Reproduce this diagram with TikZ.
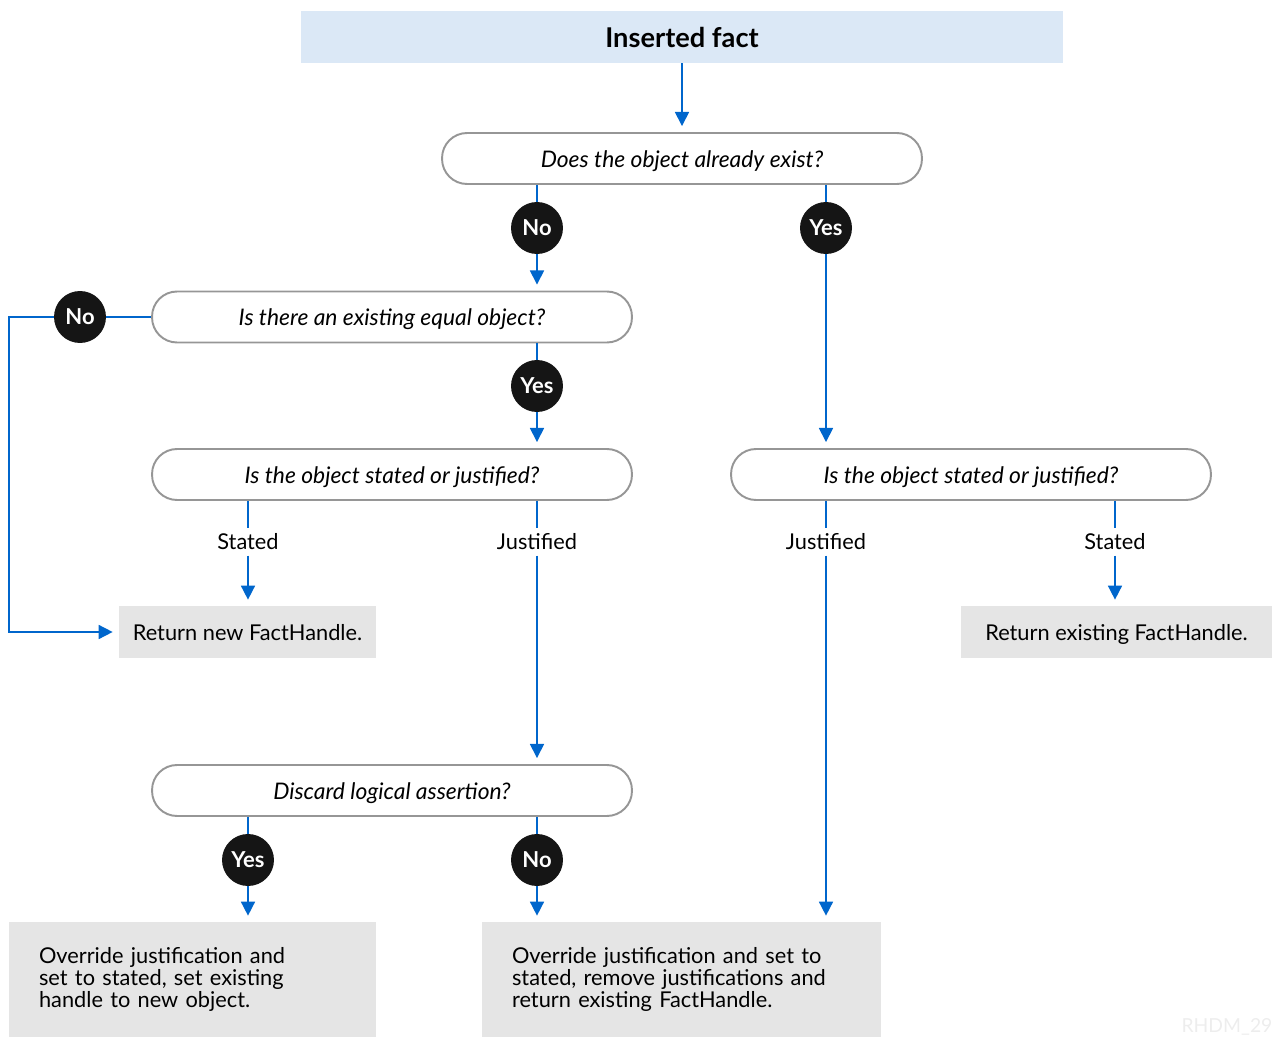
\documentclass[tikz,border=0pt]{standalone}
\usepackage{fontspec}
\setmainfont{Lato}
\usetikzlibrary{arrows.meta}
\definecolor{flowblue}{RGB}{0,102,204}
\definecolor{titleblue}{RGB}{219,232,246}
\definecolor{boxgray}{RGB}{229,229,229}
\definecolor{edgegray}{RGB}{150,150,150}
\definecolor{dotblack}{RGB}{21,21,21}

\begin{document}
\begin{tikzpicture}[x=0.02cm,y=-0.02cm,
  question/.style={draw=edgegray,line width=1.1pt,rounded corners=0.5cm,minimum width=9.6cm,minimum height=1.02cm,text height=10pt,text depth=0pt,font=\itshape\fontsize{13}{15}\selectfont},
  answer/.style={circle,fill=dotblack,text=white,minimum size=1.04cm,inner sep=0pt,font=\bfseries\fontsize{12.5}{14}\selectfont},
  result/.style={fill=boxgray,minimum height=1.04cm,text height=9.5pt,text depth=0pt,font=\fontsize{12.4}{14}\selectfont},
  longresult/.style={fill=boxgray,align=left,inner xsep=0.6cm,font=\fontsize{12.4}{12.6}\selectfont},
  branch/.style={inner sep=3pt,font=\fontsize{12.4}{14}\selectfont},
  flow/.style={draw=flowblue,line width=0.9pt},
  flowto/.style={flow,-{Triangle[length=8pt,width=8pt]},shorten >=0.12cm}]
  \useasboundingbox (0,0) rectangle (1272,1037);
  \node[fill=titleblue,minimum width=15.26cm,minimum height=1.04cm,font=\bfseries\fontsize{15.5}{18}\selectfont] (fact) at (682,37) {Inserted fact};
  \node[question] (exist) at (682,158.5) {Does the object already exist?};
  \node[question] (equal) at (392,317) {Is there an existing equal object?};
  \node[question] (kindl) at (392,474.5) {Is the object stated or justified?};
  \node[question] (kindr) at (971,474.5) {Is the object stated or justified?};
  \node[question] (discard) at (392,790.5) {Discard logical assertion?};
  \node[result,minimum width=5.14cm] (newfh) at (247.5,632) {Return new FactHandle.};
  \node[result,minimum width=6.22cm] (oldfh) at (1116.5,632) {Return existing FactHandle.};
  \node[longresult,text width=6.14cm,minimum height=2.3cm] (overa) at (192.5,979.5)
    {Override justification and\\set to stated, set existing\\handle to new object.};
  \node[longresult,text width=6.78cm,minimum height=2.3cm] (overb) at (681.5,979.5)
    {Override justification and set to\\stated, remove justifications and\\return existing FactHandle.};
  \node[answer] (no1) at (537,228) {No};
  \node[answer] (yes1) at (826,228) {Yes};
  \node[answer] (no2) at (80,317) {No};
  \node[answer] (yes2) at (537,386) {Yes};
  \node[answer] (yes3) at (248,860) {Yes};
  \node[answer] (no3) at (537,860) {No};
  \node[branch] (stl) at (248,542) {Stated};
  \node[branch] (jsl) at (537,542) {Justified};
  \node[branch] (jsr) at (826,542) {Justified};
  \node[branch] (str) at (1115,542) {Stated};
  \coordinate (edge) at (9,317);
  \node[text=black!7,font=\fontsize{11}{12}\selectfont] (mark) at (1227,1027) {RHDM\_29};

  \draw[flowto] (fact) -- (exist);
  \draw[flow] (no1 |- exist.south) -- (no1);
  \draw[flowto] (no1) -- (no1 |- equal.north);
  \draw[flow] (yes1 |- exist.south) -- (yes1);
  \draw[flowto] (yes1) -- (yes1 |- kindr.north);
  \draw[flow] (equal.west) -- (no2);
  \draw[flowto] (no2) -- (edge) |- (newfh.west);
  \draw[flow] (yes2 |- equal.south) -- (yes2);
  \draw[flowto] (yes2) -- (yes2 |- kindl.north);
  \draw[flow] (stl |- kindl.south) -- (stl);
  \draw[flowto] (stl) -- (stl |- newfh.north);
  \draw[flow] (jsl |- kindl.south) -- (jsl);
  \draw[flowto] (jsl) -- (jsl |- discard.north);
  \draw[flow] (jsr |- kindr.south) -- (jsr);
  \draw[flowto] (jsr) -- (jsr |- overb.north);
  \draw[flow] (str |- kindr.south) -- (str);
  \draw[flowto] (str) -- (str |- oldfh.north);
  \draw[flow] (yes3 |- discard.south) -- (yes3);
  \draw[flowto] (yes3) -- (yes3 |- overa.north);
  \draw[flow] (no3 |- discard.south) -- (no3);
  \draw[flowto] (no3) -- (no3 |- overb.north);
\end{tikzpicture}
\end{document}
